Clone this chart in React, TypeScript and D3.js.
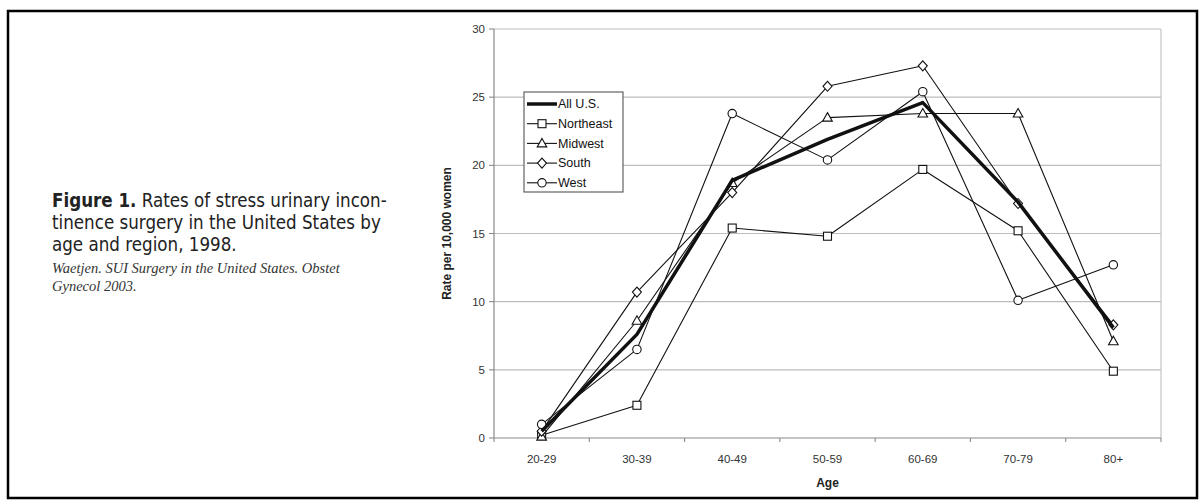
import React from "react";
import * as d3 from "d3";

const categories = ["20-29", "30-39", "40-49", "50-59", "60-69", "70-79", "80+"];
const allUS = [0.5, 7.6, 18.9, 21.9, 24.6, 17.3, 8.1];
const northeast = [0.2, 2.4, 15.4, 14.8, 19.7, 15.2, 4.9];
const midwest = [0.1, 8.6, 18.7, 23.5, 23.8, 23.8, 7.1];
const south = [0.5, 10.7, 18.0, 25.8, 27.3, 17.2, 8.3];
const west = [1.0, 6.5, 23.8, 20.4, 25.4, 10.1, 12.7];
const yTicks = [0, 5, 10, 15, 20, 25, 30];
const seriesNames = ["All U.S.", "Northeast", "Midwest", "South", "West"];

type Marker = "none" | "square" | "triangle" | "diamond" | "circle";
const series: { name: string; values: number[]; marker: Marker }[] = [
  { name: seriesNames[1], values: northeast, marker: "square" },
  { name: seriesNames[2], values: midwest, marker: "triangle" },
  { name: seriesNames[3], values: south, marker: "diamond" },
  { name: seriesNames[4], values: west, marker: "circle" },
  { name: seriesNames[0], values: allUS, marker: "none" },
];
const legendMarkers: Marker[] = ["none", "square", "triangle", "diamond", "circle"];

const W = 1203;
const H = 504;
const plot = { left: 494, right: 1161, top: 29, bottom: 438 };

function MarkerShape({ type, x, y }: { type: Marker; x: number; y: number }) {
  const common = { fill: "white", stroke: "#111", strokeWidth: 1.1 };
  if (type === "square") return <rect x={x - 4} y={y - 4} width={8} height={8} {...common} />;
  if (type === "circle") return <circle cx={x} cy={y} r={4.2} {...common} />;
  if (type === "triangle")
    return <path d={`M${x},${y - 5}L${x + 4.8},${y + 3.5}L${x - 4.8},${y + 3.5}Z`} {...common} />;
  if (type === "diamond")
    return <path d={`M${x},${y - 5}L${x + 4.5},${y}L${x},${y + 5}L${x - 4.5},${y}Z`} {...common} />;
  return null;
}

export default function App() {
  const x = d3.scaleBand().domain(categories).range([plot.left, plot.right]);
  const y = d3.scaleLinear().domain([0, 30]).range([plot.bottom, plot.top]);
  const cx = (c: string) => (x(c) as number) + x.bandwidth() / 2;
  const line = d3
    .line<number>()
    .x((_, i) => cx(categories[i]))
    .y((d) => y(d));

  const axisColor = "#8a8a8a";
  const tickFont = "Liberation Sans, Arial, sans-serif";

  const legend = { x: 524, y: 92, w: 99, h: 100 };

  return (
    <svg
      width={W}
      height={H}
      style={{ position: "absolute", left: 0, top: 0, background: "white" }}
    >
      <rect x={0} y={0} width={W} height={H} fill="white" />
      {/* frame */}
      <rect x={8} y={11} width={1189} height={487} fill="none" stroke="#000" strokeWidth={2.5} />

      {/* caption */}
      <g fontFamily="'Liberation Sans Narrow', 'DejaVu Sans Condensed', 'Open Sans', sans-serif" fontSize={18.6} fill="#222">
        <text x={52} y={207}>
          <tspan fontWeight="bold">Figure 1.</tspan>
          <tspan> Rates of stress urinary incon-</tspan>
        </text>
        <text x={52} y={229}>tinence surgery in the United States by</text>
        <text x={52} y={251}>age and region, 1998.</text>
      </g>
      <g fontFamily="'Liberation Serif', 'DejaVu Serif', serif" fontStyle="italic" fontSize={14.5} fill="#333">
        <text x={52} y={273}>Waetjen. SUI Surgery in the United States. Obstet</text>
        <text x={52} y={291}>Gynecol 2003.</text>
      </g>

      {/* gridlines */}
      {yTicks.filter((t) => t > 0).map((t) => (
        <line key={t} x1={plot.left} x2={plot.right} y1={y(t)} y2={y(t)} stroke="#bdbdbd" strokeWidth={1.2} />
      ))}
      {/* right border */}
      <line x1={plot.right} x2={plot.right} y1={plot.top} y2={plot.bottom} stroke="#c4c4c4" strokeWidth={1.2} />
      {/* axes */}
      <line x1={plot.left} x2={plot.left} y1={plot.top} y2={plot.bottom} stroke={axisColor} strokeWidth={1.2} />
      <line x1={plot.left} x2={plot.right} y1={plot.bottom} y2={plot.bottom} stroke={axisColor} strokeWidth={1.2} />

      {/* y ticks */}
      {yTicks.map((t) => (
        <g key={t}>
          <line x1={plot.left - 5} x2={plot.left} y1={y(t)} y2={y(t)} stroke={axisColor} strokeWidth={1.1} />
          <text x={plot.left - 9} y={y(t)} dy="0.35em" textAnchor="end" fontFamily={tickFont} fontSize={11.5} fill="#333">
            {t}
          </text>
        </g>
      ))}
      {/* x ticks */}
      {categories.map((c) => (
        <line key={"t" + c} x1={x(c) as number} x2={x(c) as number} y1={plot.bottom} y2={plot.bottom + 4} stroke={axisColor} strokeWidth={1.1} />
      ))}
      <line x1={plot.right} x2={plot.right} y1={plot.bottom} y2={plot.bottom + 4} stroke={axisColor} strokeWidth={1.1} />
      {categories.map((c) => (
        <text key={"l" + c} x={cx(c)} y={459} dy="0.35em" textAnchor="middle" fontFamily={tickFont} fontSize={11.5} fill="#333">
          {c}
        </text>
      ))}

      {/* axis titles */}
      <text x={(plot.left + plot.right) / 2} y={483} dy="0.35em" textAnchor="middle" fontFamily={tickFont} fontSize={12} fontWeight="bold" fill="#222">
        Age
      </text>
      <text
        transform={`translate(447, ${(plot.top + plot.bottom) / 2}) rotate(-90)`}
        dy="0.35em"
        textAnchor="middle"
        fontFamily={tickFont}
        fontSize={12}
        fontWeight="bold"
        fill="#222"
      >
        Rate per 10,000 women
      </text>

      {/* series */}
      {series.map((s) => (
        <g key={s.name}>
          <path
            d={line(s.values) as string}
            fill="none"
            stroke="#111"
            strokeWidth={s.marker === "none" ? 3.5 : 1.1}
            strokeLinejoin="round"
          />
          {s.values.map((v, i) => (
            <MarkerShape key={i} type={s.marker} x={cx(categories[i])} y={y(v)} />
          ))}
        </g>
      ))}

      {/* legend */}
      <rect x={legend.x} y={legend.y} width={legend.w} height={legend.h} fill="white" stroke="#555" strokeWidth={1.1} />
      {seriesNames.map((n, i) => {
        const ly = legend.y + 12 + i * 19.7;
        const m = legendMarkers[i];
        return (
          <g key={n}>
            <line
              x1={legend.x + 3}
              x2={legend.x + 33}
              y1={ly}
              y2={ly}
              stroke="#111"
              strokeWidth={m === "none" ? 3.5 : 1.1}
            />
            <MarkerShape type={m} x={legend.x + 18} y={ly} />
            <text x={legend.x + 34} y={ly} dy="0.35em" fontFamily={tickFont} fontSize={12.5} fill="#111">
              {n}
            </text>
          </g>
        );
      })}
    </svg>
  );
}
